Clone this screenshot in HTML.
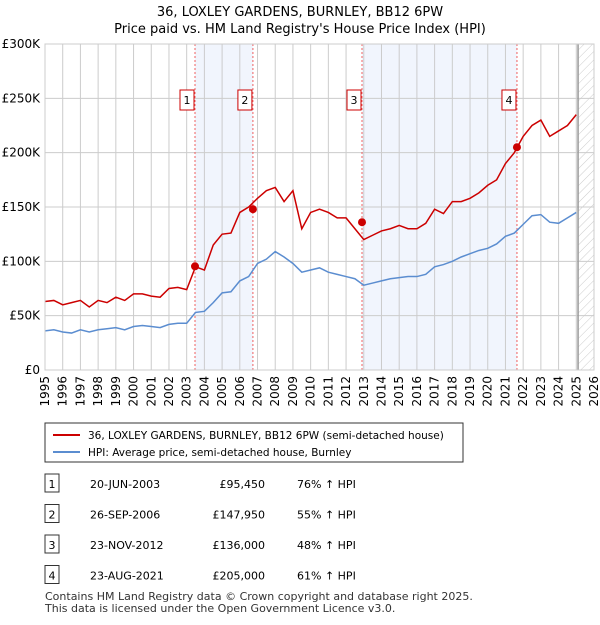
<!DOCTYPE html>
<html><head><meta charset="utf-8"><style>
body{margin:0;background:#fff;font-family:"Liberation Sans","DejaVu Sans",sans-serif;}
svg text{font-family:"DejaVu Sans","Liberation Sans",sans-serif;}
</style></head><body>
<svg width="600" height="620" xmlns="http://www.w3.org/2000/svg">
<defs><pattern id="hatch" width="6" height="6" patternUnits="userSpaceOnUse" patternTransform="rotate(45)"><line x1="0" y1="0" x2="0" y2="6" stroke="#ccc" stroke-width="1"/></pattern></defs>
<text x="300" y="16" text-anchor="middle" font-size="13">36, LOXLEY GARDENS, BURNLEY, BB12 6PW</text>
<text x="300" y="33" text-anchor="middle" font-size="13">Price paid vs. HM Land Registry's House Price Index (HPI)</text>
<g id="plot"></g>
<g id="legend">
<rect x="45" y="423" width="418" height="39" fill="#fff" stroke="#333"/>
<line x1="53" y1="435" x2="80" y2="435" stroke="#cc0000" stroke-width="2"/>
<text x="88" y="439" font-size="10.5">36, LOXLEY GARDENS, BURNLEY, BB12 6PW (semi-detached house)</text>
<line x1="53" y1="452" x2="80" y2="452" stroke="#5b8dd0" stroke-width="2"/>
<text x="88" y="456" font-size="10.5">HPI: Average price, semi-detached house, Burnley</text>
</g>
<g id="table"></g>
<text x="45" y="600" font-size="11" fill="#333">Contains HM Land Registry data © Crown copyright and database right 2025.</text>
<text x="45" y="612" font-size="11" fill="#333">This data is licensed under the Open Government Licence v3.0.</text>
</svg>
<script>
const years=[1995,1995.5,1996,1996.5,1997,1997.5,1998,1998.5,1999,1999.5,2000,2000.5,2001,2001.5,2002,2002.5,2003,2003.5,2004,2004.5,2005,2005.5,2006,2006.5,2007,2007.5,2008,2008.5,2009,2009.5,2010,2010.5,2011,2011.5,2012,2012.5,2013,2013.5,2014,2014.5,2015,2015.5,2016,2016.5,2017,2017.5,2018,2018.5,2019,2019.5,2020,2020.5,2021,2021.5,2022,2022.5,2023,2023.5,2024,2024.5,2025];
const hpi=[36,37,35,34,37,35,37,38,39,37,40,41,40,39,42,43,43,53,54,62,71,72,82,86,98,102,109,104,98,90,92,94,90,88,86,84,78,80,82,84,85,86,86,88,95,97,100,104,107,110,112,116,123,126,134,142,143,136,135,140,145];
const price=[63,64,60,62,64,58,64,62,67,64,70,70,68,67,75,76,74,95,92,115,125,126,145,150,158,165,168,155,165,130,145,148,145,140,140,130,120,124,128,130,133,130,130,135,148,144,155,155,158,163,170,175,190,200,215,225,230,215,220,225,235];
const saleDates=[2003.47,2006.74,2012.9,2021.65];
const salePrices=[95.45,147.95,136,205];
const saleLabels=["1","2","3","4"];
const yTicks=[0,50,100,150,200,250,300];
const yTickLabels=["£0","£50K","£100K","£150K","£200K","£250K","£300K"];
const tableDates=["20-JUN-2003","26-SEP-2006","23-NOV-2012","23-AUG-2021"];
const tablePrices=["£95,450","£147,950","£136,000","£205,000"];
const tablePct=["76% ↑ HPI","55% ↑ HPI","48% ↑ HPI","61% ↑ HPI"];

const NS="http://www.w3.org/2000/svg";
const X0=45,X1=594,Y0=370,Y1=44,T0=1995,T1=2026;
const xs=t=>X0+(t-T0)/(T1-T0)*(X1-X0);
const ys=v=>Y0-v/300*(Y0-Y1);
function mk(tag,attrs,parent,txt){const e=document.createElementNS(NS,tag);for(const k in attrs)e.setAttribute(k,attrs[k]);if(txt!==undefined)e.textContent=txt;parent.appendChild(e);return e;}
const g=document.getElementById('plot');
for(let i=0;i<4;i+=2){
 const r=mk('rect',{x:xs(saleDates[i]),y:Y1,width:xs(saleDates[i+1])-xs(saleDates[i]),height:Y0-Y1,fill:'#eef3fc',opacity:0.8},g);
 
 
}
const hx=xs(2025.1);
const hr=mk('rect',{x:hx,y:Y1,width:X1-hx,height:Y0-Y1,fill:'url(#hatch)'},g);


for(let t=T0;t<=T1;t++){
 mk('line',{x1:xs(t),x2:xs(t),y1:Y1,y2:Y0,stroke:'#ccc','stroke-width':1},g);
 const lb=mk('text',{x:0,y:0,'font-size':12,'text-anchor':'end',transform:`translate(${xs(t)+4},376) rotate(-90)`},g,String(t));
 
 
}
yTicks.forEach((v,i)=>{
 mk('line',{x1:X0,x2:X1,y1:ys(v),y2:ys(v),stroke:'#ccc','stroke-width':1},g);
 const lb=mk('text',{x:40,y:ys(v)+4,'font-size':12,'text-anchor':'end'},g,yTickLabels[i]);
 
 
});
mk('line',{x1:hx,x2:hx,y1:Y1,y2:Y0,stroke:'#999','stroke-width':1.5},g);
saleDates.forEach((d,i)=>{
 mk('line',{x1:xs(d),x2:xs(d),y1:Y1,y2:Y0,stroke:'#f06060','stroke-width':1,'stroke-dasharray':'2,2'},g);
 const bx=mk('rect',{x:xs(d)-15,y:90,width:14,height:20,fill:'#fff',stroke:'#cc0000'},g);
 
 
 mk('text',{x:xs(d)-8,y:104,'font-size':11,'text-anchor':'middle'},g,saleLabels[i]);
});
function line(arr,color,name){
 const p=mk('polyline',{points:years.map((t,i)=>xs(t)+','+ys(arr[i])).join(' '),fill:'none',stroke:color,'stroke-width':1.5},g);
 
 
}
line(hpi,'#5b8dd0','hpi-line');
line(price,'#cc0000','price-line');
saleDates.forEach((d,i)=>{
 const c=mk('circle',{cx:xs(d),cy:ys(salePrices[i]),r:4,fill:'#cc0000'},g);
 
 
});
mk('rect',{x:X0,y:Y1,width:X1-X0,height:Y0-Y1,fill:'none',stroke:'#ccc'},g);
const tb=document.getElementById('table');
tableDates.forEach((d,i)=>{
 const y=484+i*30.5;
 mk('rect',{x:45,y:y-10,width:14,height:18,fill:'#fff',stroke:'#333'},tb);
 mk('text',{x:52,y:y+4,'font-size':11,'text-anchor':'middle'},tb,saleLabels[i]);
 const a=mk('text',{x:90,y:y+4,'font-size':11},tb,d);
 
 
 const b=mk('text',{x:265,y:y+4,'font-size':11,'text-anchor':'end'},tb,tablePrices[i]);
 
 
 const c=mk('text',{x:297,y:y+4,'font-size':11},tb,tablePct[i]);
 
 
});
</script>
</body></html>
